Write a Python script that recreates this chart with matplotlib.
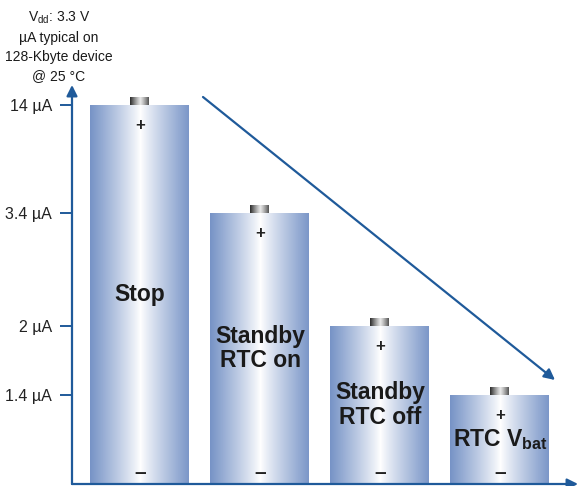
import numpy as np
import matplotlib
matplotlib.use('Agg')
import matplotlib.pyplot as plt
from matplotlib.patches import Rectangle

labels = ['Stop', 'Standby\nRTC on', 'Standby\nRTC off', 'RTC V$_\\mathbf{bat}$']
currents = [14, 3.4, 2, 1.4]
tick_values = [1.4, 2, 3.4, 14]
tick_labels = ['1.4 µA', '2 µA', '3.4 µA', '14 µA']
note = 'V$_\\mathrm{dd}$: 3.3 V\nµA typical on\n128-Kbyte device\n@ 25 °C'

plt.rcParams['font.family'] = ['Liberation Sans', 'DejaVu Sans']
plt.rcParams['mathtext.fontset'] = 'custom'
plt.rcParams['mathtext.rm'] = 'Liberation Sans'
plt.rcParams['mathtext.bf'] = 'Liberation Sans:bold'

blue = '#1f5a9a'

# the axis is not linear: piecewise map value -> pixel height
lv = np.array([0, 1.4, 2, 3.4, 14, 15.6])
px = np.array([0, 89, 158, 271, 379, 399])
fwd = lambda v: np.interp(v, lv, px)
inv = lambda p: np.interp(p, px, lv)

fig = plt.figure(figsize=[5.8, 4.86], dpi=100)
ax = fig.add_axes([72 / 580, 2 / 486, 506 / 580, 399 / 486])
ax.set_yscale('function', functions=(fwd, inv))
ax.set_ylim(0, 15.6)
ax.set_xlim(-0.567, 3.65)

x = np.arange(len(currents))
w = 100 / 120
bars = ax.bar(x, currents, width=w, color='none', edgecolor='none', zorder=2)

t = np.linspace(-1, 1, 256)
prof = 1 - np.abs(t) ** 0.9
edge = np.array([0.47, 0.58, 0.78])
grad = edge[None, :] + (1 - edge)[None, :] * prof[:, None]
grad = grad[None, :, :]
cap_prof = 0.2 + 0.7 * (1 - np.abs(t) ** 1.2)
cap_grad = np.repeat(cap_prof[None, :, None], 3, axis=2)

for xi, h, bar, lab in zip(x, currents, bars, labels):
    im = ax.imshow(grad, extent=[xi - w / 2, xi + w / 2, 0, h], aspect='auto', zorder=2)
    im.set_clip_path(bar)
    # terminal on top
    cw = 20 / 120
    ctop = inv(fwd(h) + 8)
    cap = Rectangle((xi - cw / 2, h), cw, ctop - h, facecolor='none', edgecolor='none')
    ax.add_patch(cap)
    ci = ax.imshow(cap_grad, extent=[xi - cw / 2, xi + cw / 2, h, ctop], aspect='auto', zorder=2)
    ci.set_clip_path(cap)
    ax.annotate('+', (xi, h), xytext=(0, -20), textcoords='offset pixels', ha='center', va='center',
                fontsize=12, fontweight='bold', color='#222222')
    ax.annotate('–', (xi, 0), xytext=(0, 12), textcoords='offset pixels', ha='center', va='center',
                fontsize=15, fontweight='bold', color='#222222')
    ax.text(xi, inv(fwd(h) / 2), lab, ha='center', va='center', fontsize=16.5, fontweight='bold',
            color='#1a1a1a', linespacing=1.1)

ax.set_xticks([])
ax.set_yticks(tick_values)
ax.set_yticklabels(tick_labels)
ax.minorticks_off()
ax.tick_params(axis='y', length=8.5, width=1.4, color=blue, pad=6, labelsize=11.5, labelcolor='#222222')
for s in ['top', 'right', 'left', 'bottom']:
    ax.spines[s].set_visible(False)
ax.set_facecolor('none')

# axes with arrow heads
ax.annotate('', xy=(0, 1.0), xytext=(0, 0), xycoords='axes fraction',
            arrowprops=dict(arrowstyle='-|>', color=blue, lw=1.6, mutation_scale=16, shrinkA=0, shrinkB=0))
ax.annotate('', xy=(1.0, 0), xytext=(0, 0), xycoords='axes fraction',
            arrowprops=dict(arrowstyle='-|>', color=blue, lw=1.6, mutation_scale=16, shrinkA=0, shrinkB=0))
# trend arrow
ax.annotate('', xy=(483, 104), xytext=(131, 387), xycoords='axes pixels',
            arrowprops=dict(arrowstyle='-|>', color=blue, lw=1.6, mutation_scale=16, shrinkA=0, shrinkB=0))

fig.text(59 / 580, 1 - 46 / 486, note, ha='center', va='center', fontsize=10, color='#1a1a1a',
         linespacing=1.45)

fig.savefig('out.png', dpi=100)
